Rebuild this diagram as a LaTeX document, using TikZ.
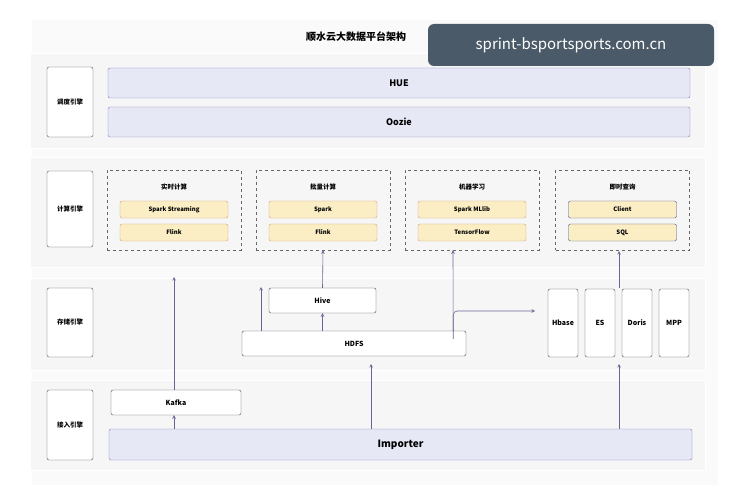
\documentclass[tikz,border=0pt]{standalone}
\usepackage{fontspec}
\setmainfont{Noto Sans CJK SC}
\usetikzlibrary{positioning}
\definecolor{barfill}{HTML}{E6E8F5}
\definecolor{itemfill}{HTML}{FBEDC4}
\definecolor{markfill}{HTML}{4B5A68}

\begin{document}
\begin{tikzpicture}[x=1pt, y=-1pt, font=\bfseries,
                    band/.style={fill=gray!7, draw=white},
                    tagnode/.style={draw=black!70, rounded corners=2pt, fill=white, minimum width=46pt, minimum height=#1, font=\bfseries\fontsize{6.5}{7}\selectfont},
                    barnode/.style={draw=black!50!blue!50, fill=barfill, rounded corners=2pt, minimum width=582pt, minimum height=30pt, font=\bfseries\fontsize{9}{10}\selectfont},
                    groupnode/.style={draw=black!60, dashed, minimum width=134pt, minimum height=80pt},
                    itemnode/.style={draw=brown!70, fill=itemfill, rounded corners=2pt, minimum width=108pt, minimum height=17pt, font=\bfseries\fontsize{6}{7}\selectfont},
                    boxnode/.style={draw=black!70, fill=white, rounded corners=2pt, font=\bfseries\fontsize{7}{8}\selectfont},
                    arr/.style={draw=blue!30!black!60, ->, >=stealth, semithick},
                ]
                    \useasboundingbox (0,0) rectangle (737,500);
                    \fill[white] (0,0) rectangle (737,500);
                    \fill[gray!4] (32,20) rectangle (718,485);

                    %Bands
                    \fill[band] (30,53) rectangle (705,148);
                    \fill[band] (30,157) rectangle (705,267);
                    \fill[band] (30,278) rectangle (705,370);
                    \fill[band] (30,380) rectangle (705,470);

                    %Title
                    \node[font=\bfseries\fontsize{10}{12}\selectfont](title) at (356,37) {顺水云大数据平台架构};
                    \node[fill=markfill, text=white, rounded corners=6pt, minimum width=286pt, minimum height=42pt, font=\fontsize{15}{17}\selectfont](mark) at (571,45) {sprint-bsportsports.com.cn};

                    %Layer tags
                    \node[tagnode=70pt](sched) at (70,102) {调度引擎};
                    \node[tagnode=76pt](comp) at (70,209) {计算引擎};
                    \node[tagnode=69pt](stor) at (70,322.5) {存储引擎};
                    \node[tagnode=70pt](ingest) at (70,425) {接入引擎};

                    %Scheduling
                    \node[barnode](hue) at (399,83) {HUE};
                    \node[barnode](oozie) at (399,122) {Oozie};

                    %Compute groups
                    \node[groupnode](stream) at (174,210) {};
                    \node[groupnode](batch) at (323,210) {};
                    \node[groupnode](ml) at (472,210) {};
                    \node[groupnode](query) at (622.5,210) {};
                    \foreach \g/\t in {stream/实时计算, batch/批量计算, ml/机器学习, query/即时查询}
                        \node[font=\bfseries\fontsize{6.5}{7}\selectfont] (\g t) at ([yshift=-17pt]\g.north) {\t};

                    \node[itemnode](sstream) at (174,209.5) {Spark Streaming};
                    \node[itemnode](flink1) at (174,232.5) {Flink};
                    \node[itemnode](spark) at (323,209.5) {Spark};
                    \node[itemnode](flink2) at (323,232.5) {Flink};
                    \node[itemnode](mllib) at (472,209.5) {Spark MLlib};
                    \node[itemnode](tf) at (472,232.5) {TensorFlow};
                    \node[itemnode, draw=blue!30!black!70](client) at (622.5,209.5) {Client};
                    \node[itemnode, draw=blue!30!black!70](sql) at (622.5,232.5) {SQL};

                    %Storage
                    \node[boxnode, minimum width=107pt, minimum height=25pt](hive) at (322.5,300.5) {Hive};
                    \node[boxnode, minimum width=224pt, minimum height=25pt](hdfs) at (354,343.5) {HDFS};
                    \node[boxnode, minimum width=30pt, minimum height=68pt](hbase) at (563,323) {Hbase};
                    \node[boxnode, minimum width=30pt, minimum height=68pt](es) at (600,323) {ES};
                    \node[boxnode, minimum width=30pt, minimum height=68pt](doris) at (637,323) {Doris};
                    \node[boxnode, minimum width=30pt, minimum height=68pt](mpp) at (674,323) {MPP};

                    %Ingest
                    \node[boxnode, minimum width=130pt, minimum height=25pt](kafka) at (176,402.5) {Kafka};
                    \node[barnode, minimum width=583pt, minimum height=31pt, font=\bfseries\fontsize{10}{11}\selectfont](importer) at (400.5,444.5) {Importer};

                    %Lines
                    \coordinate (kafkaup) at (174,277);
                    \coordinate (hdfsleftup) at (261,287);
                    \coordinate (dbup) at (535,311);
                    \draw[arr] (importer.north -| kafkaup) -- (kafka.south -| kafkaup);
                    \draw[arr] (kafka.north -| kafkaup) -- (kafkaup);
                    \draw[arr] (hdfs.north -| hdfsleftup) -- (hdfsleftup);
                    \draw[arr] (hdfs.north -| hive) -- (hive.south);
                    \draw[arr] (hive.north) -- (batch.south);
                    \draw[arr] ([xshift=-13pt]hdfs.north east) -- ([xshift=-19pt]ml.south);
                    \draw[arr, rounded corners=4pt] ([xshift=-13pt,yshift=-8pt]hdfs.north east) |- (dbup);
                    \draw[arr] (importer.north -| 371,0) -- (371,364);
                    \draw[arr] (importer.north -| 619,0) -- (619,364);
                    \draw[arr] (619,288) -- (619,251);
                \end{tikzpicture}
\end{document}
